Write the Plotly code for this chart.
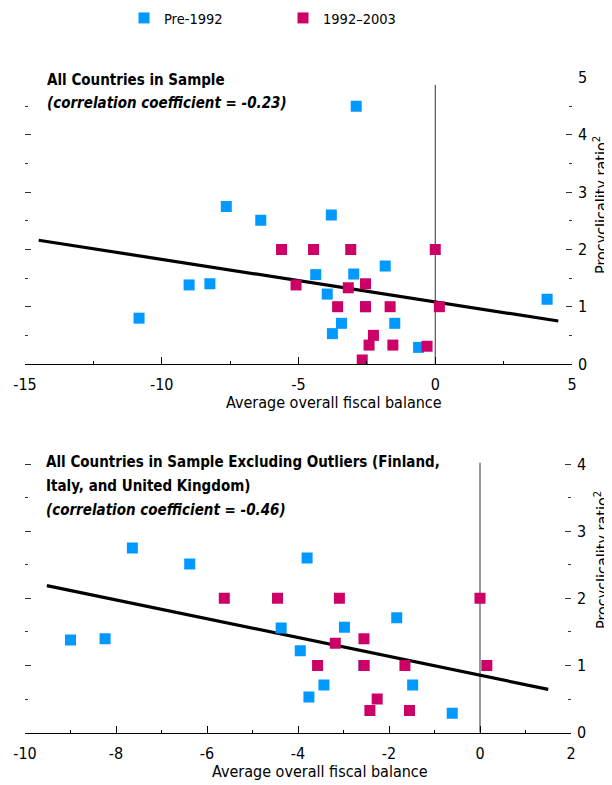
import plotly.graph_objects as go

# ---------------- data ----------------
pre_x = [-10.83, -9.00, -8.24, -7.64, -6.38, -4.37, -3.95, -3.80, -3.76, -3.43,
         -2.98, -2.89, -2.55, -1.83, -1.48, -0.61, 4.09]
pre_y = [0.80, 1.38, 1.40, 2.75, 2.51, 1.56, 1.22, 2.60, 0.53, 0.71,
         1.57, 4.50, 1.00, 1.71, 0.71, 0.29, 1.13]
pre_outlier = [True, False, False, False, False, False, False, False, False, False,
               False, True, False, False, False, False, True]

post_x = [-5.62, -5.09, -4.45, -3.57, -3.18, -3.09, -2.67, -2.55, -2.55, -2.42,
          -2.26, -1.65, -1.55, -0.30, 0.00, 0.15]
post_y = [2.00, 1.38, 2.00, 1.00, 1.33, 2.00, 0.07, 1.40, 1.00, 0.33,
          0.50, 1.00, 0.33, 0.31, 2.00, 1.00]
post_outlier = [False, True, False, False, False, False, True, False, False, False,
                False, False, False, True, False, False]

fit_all_x = [-14.5, 4.5]
fit_all_y = [2.16, 0.75]
fit_excl_x = [-9.52, 1.50]
fit_excl_y = [2.19, 0.645]

top_xticks = [-15, -10, -5, 0, 5]
top_xticktext = ["-15", "-10", "-5", "0", "5"]
top_xminor = [-12.5, -7.5, -2.5, 2.5]
top_yticks = [0, 1, 2, 3, 4, 5]
bot_xticks = [-10, -8, -6, -4, -2, 0, 2]
bot_xticktext = ["-10", "-8", "-6", "-4", "-2", "0", "2"]
bot_xminor = [-9, -7, -5, -3, -1, 1]
bot_yticks = [0, 1, 2, 3, 4]

top_title = ["<b>All Countries in Sample</b>",
             "<b><i>(correlation coefficient = -0.23)</i></b>"]
bot_title = ["<b>All Countries in Sample Excluding Outliers (Finland,</b>",
             "<b>Italy, and United Kingdom)</b>",
             "<b><i>(correlation coefficient = -0.46)</i></b>"]
x_title = "Average overall fiscal balance"
y_title = "Procyclicality ratio<sup>2</sup>"

# ---------------- style ----------------
FONT = "DejaVu Sans Condensed, Liberation Sans Narrow, sans-serif"
BLUE = "#0099FF"
MAG = "#CC0066"
W, H = 612, 785
OFF = 8  # page body margin of the browser


def px(v):
    return (v - OFF) / W


def py(v):
    return 1 - (v - OFF) / H


fig = go.Figure()

# top panel
fig.add_trace(go.Scatter(x=fit_all_x, y=fit_all_y, mode="lines",
                         line=dict(color="black", width=3.2), showlegend=False,
                         xaxis="x", yaxis="y", hoverinfo="skip"))
fig.add_trace(go.Scatter(x=pre_x, y=pre_y, mode="markers", name="Pre-1992",
                         marker=dict(symbol="square", size=11, color=BLUE),
                         xaxis="x", yaxis="y", legendrank=1))
fig.add_trace(go.Scatter(x=post_x, y=post_y, mode="markers", name="1992\u20132003",
                         marker=dict(symbol="square", size=11, color=MAG),
                         xaxis="x", yaxis="y", legendrank=2))

# bottom panel
bx_pre = [x for x, o in zip(pre_x, pre_outlier) if not o]
by_pre = [y for y, o in zip(pre_y, pre_outlier) if not o]
bx_post = [x for x, o in zip(post_x, post_outlier) if not o]
by_post = [y for y, o in zip(post_y, post_outlier) if not o]

fig.add_trace(go.Scatter(x=fit_excl_x, y=fit_excl_y, mode="lines",
                         line=dict(color="black", width=3.2), showlegend=False,
                         xaxis="x2", yaxis="y2", hoverinfo="skip"))
fig.add_trace(go.Scatter(x=bx_pre, y=by_pre, mode="markers", showlegend=False,
                         marker=dict(symbol="square", size=11, color=BLUE),
                         xaxis="x2", yaxis="y2"))
fig.add_trace(go.Scatter(x=bx_post, y=by_post, mode="markers", showlegend=False,
                         marker=dict(symbol="square", size=11, color=MAG),
                         xaxis="x2", yaxis="y2"))

xcommon = dict(showline=True, linecolor="black", linewidth=1, ticks="inside",
               ticklen=7, tickcolor="black", tickwidth=1, showgrid=False,
               zeroline=False, tickfont=dict(size=16, color="black"),
               ticklabelstandoff=6, automargin=False)
ycommon = dict(side="right", ticks="inside", ticklen=6, tickcolor="#333",
               tickwidth=1, mirror="ticks", showline=False, showgrid=False,
               zeroline=False, tickfont=dict(size=16, color="black"),
               ticklabelstandoff=5, automargin=False)

annotations = []
for i, t in enumerate(top_title):
    annotations.append(dict(xref="paper", yref="paper", x=px(45), y=py(80 + 23 * i),
                            xanchor="left", yanchor="middle", align="left",
                            showarrow=False, font=dict(size=15), text=t))
for i, t in enumerate(bot_title):
    annotations.append(dict(xref="paper", yref="paper", x=px(44), y=py(462 + 24 * i),
                            xanchor="left", yanchor="middle", align="left",
                            showarrow=False, font=dict(size=15), text=t))
for xc, yc in [(334, 402), (320, 771)]:
    annotations.append(dict(xref="paper", yref="paper", x=px(xc), y=py(yc),
                            xanchor="center", yanchor="middle", showarrow=False,
                            font=dict(size=16), text=x_title))
for yc in [205, 560]:
    annotations.append(dict(xref="paper", yref="paper", x=px(601), y=py(yc),
                            xanchor="center", yanchor="middle", showarrow=False,
                            textangle=-90, font=dict(size=16), text=y_title))

fig.update_layout(
    width=W, height=H,
    margin=dict(l=0, r=0, t=0, b=0, autoexpand=False),
    paper_bgcolor="white", plot_bgcolor="white",
    font=dict(family=FONT, color="black"),
    xaxis=dict(domain=[px(25), px(572)], range=[-15, 5], anchor="y",
               tickvals=top_xticks, ticktext=top_xticktext,
               minor=dict(tickvals=top_xminor, ticks="inside", ticklen=3,
                          tickcolor="black"), **xcommon),
    yaxis=dict(domain=[py(364), py(77.5)], range=[0, 5], anchor="x",
               tickvals=top_yticks,
               minor=dict(dtick=0.5, ticks="inside", ticklen=3, tickcolor="#333"),
               **ycommon),
    xaxis2=dict(domain=[px(25), px(571)], range=[-10, 2], anchor="y2",
                tickvals=bot_xticks, ticktext=bot_xticktext,
                minor=dict(tickvals=bot_xminor, ticks="inside", ticklen=3,
                           tickcolor="black"), **xcommon),
    yaxis2=dict(domain=[py(732.7), py(462)], range=[0, 4.03], anchor="x2",
                tickvals=bot_yticks,
                minor=dict(dtick=0.5, ticks="inside", ticklen=3, tickcolor="#333"),
                **ycommon),
    legend=dict(orientation="h", x=px(124), y=py(2), xanchor="left", yanchor="top",
                font=dict(size=14.5), entrywidth=114, entrywidthmode="pixels",
                itemwidth=30, bgcolor="rgba(0,0,0,0)"),
    shapes=[
        dict(type="line", xref="x", yref="y", x0=0, x1=0, y0=0, y1=4.87,
             line=dict(color="#333", width=1), layer="below"),
        dict(type="line", xref="x2", yref="y2", x0=0, x1=0, y0=0, y1=4.02,
             line=dict(color="#333", width=1), layer="below"),
    ],
    annotations=annotations,
)

fig.write_html("out.html")
